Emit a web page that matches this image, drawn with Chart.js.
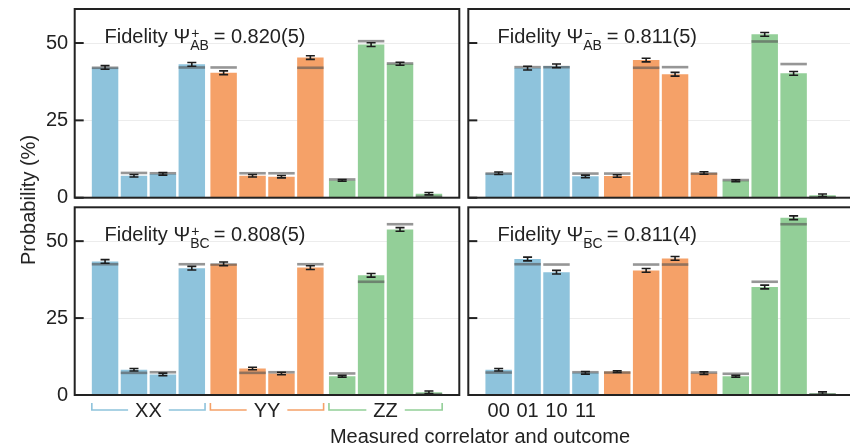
<!DOCTYPE html>
<html>
<head>
<meta charset="utf-8">
<script src="https://cdn.jsdelivr.net/npm/chart.js@4"></script>
<style>
  html, body { margin:0; padding:0; width:850px; height:446px; overflow:hidden; background:#fff; }
  body { position:relative; font-family:"Liberation Sans", Arial, sans-serif; color:#222; }
  canvas { position:absolute; }
  .fid { position:absolute; font-size:20px; line-height:20px; white-space:nowrap; }
  .ss { display:inline-block; position:relative; width:18px; height:1px; }
  .ss span { position:absolute; left:0; font-size:14px; line-height:14px; }
  .ss .sup { top:-16px; left:1px; }
  .ss .sub { top:-4px; }
  .title { position:absolute; font-size:20px; line-height:20px; white-space:nowrap; }
</style>
</head>
<body>
<canvas id="c0" width="462" height="210" style="left:0;top:0"></canvas>
<canvas id="c1" width="400" height="210" style="left:462px;top:0"></canvas>
<canvas id="c2" width="462" height="246" style="left:0;top:200px"></canvas>
<canvas id="c3" width="400" height="246" style="left:462px;top:200px"></canvas>

<div class="fid" style="left:104.5px;top:26px">Fidelity Ψ<span class="ss"><span class="sup">+</span><span class="sub">AB</span></span> = 0.820(5)</div>
<div class="fid" style="left:497.5px;top:26px">Fidelity Ψ<span class="ss"><span class="sup">−</span><span class="sub">AB</span></span> = 0.811(5)</div>
<div class="fid" style="left:104.5px;top:224px">Fidelity Ψ<span class="ss"><span class="sup">+</span><span class="sub">BC</span></span> = 0.808(5)</div>
<div class="fid" style="left:497.5px;top:224px">Fidelity Ψ<span class="ss"><span class="sup">−</span><span class="sub">BC</span></span> = 0.811(4)</div>

<div class="title" style="left:480px;top:426px;transform:translateX(-50%)">Measured correlator and outcome</div>
<div class="title" style="left:27.5px;top:200px;transform:translate(-50%,-50%) rotate(-90deg)">Probability (%)</div>

<script>
// ---- data ----
const correlators = ['XX', 'YY', 'ZZ'];
const outcomes = ['00', '01', '10', '11'];
const yTicks = [0, 25, 50];

// Measured probabilities (%), order: XX 00..11, YY 00..11, ZZ 00..11
const measAB_plus  = [42.1, 7.1, 7.7, 43.1, 40.4, 7.1, 6.8, 45.3, 5.6, 49.5, 43.3, 1.3];
const measAB_minus = [7.9, 41.9, 42.6, 6.9, 7.0, 44.5, 39.9, 8.0, 5.5, 52.8, 40.2, 0.8];
const measBC_plus  = [43.4, 8.2, 6.7, 41.2, 42.6, 8.6, 7.0, 41.4, 6.1, 38.9, 53.8, 0.9];
const measBC_minus = [8.2, 44.2, 39.9, 7.2, 7.6, 40.5, 44.4, 7.1, 6.1, 35.1, 57.6, 0.6];

// Theory predictions (%)
const theoAB_plus  = [42.0, 8.0, 7.9, 42.1, 42.1, 7.9, 7.9, 42.0, 5.9, 50.6, 43.4, 0.3];
const theoAB_minus = [7.8, 42.2, 42.2, 7.8, 7.8, 42.0, 42.2, 7.8, 5.7, 50.5, 43.2, 0.1];
const theoBC_plus  = [42.5, 7.2, 7.4, 42.5, 42.4, 7.2, 7.4, 42.5, 7.0, 36.8, 55.5, 0.2];
const theoBC_minus = [7.3, 42.5, 42.4, 7.4, 7.3, 42.4, 42.4, 7.3, 6.9, 36.8, 55.5, 0.1];

// Error bars (%)
const errAB_plus  = [0.6, 0.4, 0.4, 0.6, 0.6, 0.4, 0.4, 0.6, 0.3, 0.6, 0.5, 0.4];
const errAB_minus = [0.4, 0.6, 0.6, 0.4, 0.4, 0.6, 0.6, 0.4, 0.3, 0.6, 0.6, 0.4];
const errBC_plus  = [0.6, 0.4, 0.4, 0.6, 0.6, 0.4, 0.4, 0.6, 0.3, 0.6, 0.6, 0.4];
const errBC_minus = [0.4, 0.6, 0.6, 0.4, 0.3, 0.6, 0.6, 0.4, 0.3, 0.6, 0.6, 0.4];

const barColors = ['#8ec3dc', '#f5a168', '#93cf98'];
const groupGap = 0.1;
const FONT = '"Liberation Sans", Arial, sans-serif';

function xPos(i) {
  const g = Math.floor(i / outcomes.length), k = i % outcomes.length;
  return g * (outcomes.length + groupGap) + k;
}

const deco = {
  id: 'deco',
  afterDatasetsDraw(chart, args, opts) {
    const ctx = chart.ctx, y = chart.scales.y;
    const meta = chart.getDatasetMeta(0);
    ctx.save();
    ctx.fillStyle = 'rgba(85,85,85,0.62)';
    meta.data.forEach((el, i) => {
      const py = y.getPixelForValue(opts.theory[i]);
      ctx.fillRect(el.x - el.width / 2, py - 1.3, el.width, 2.6);
    });
    ctx.strokeStyle = '#1c1c1c';
    ctx.lineWidth = 1.6;
    const v = chart.data.datasets[0].data;
    meta.data.forEach((el, i) => {
      const val = v[i].y, e = opts.errors[i];
      const y1 = y.getPixelForValue(val + e), y2 = y.getPixelForValue(val - e);
      ctx.beginPath();
      ctx.moveTo(el.x, y1); ctx.lineTo(el.x, y2);
      ctx.moveTo(el.x - 4.5, y1); ctx.lineTo(el.x + 4.5, y1);
      ctx.moveTo(el.x - 4.5, y2); ctx.lineTo(el.x + 4.5, y2);
      ctx.stroke();
    });
    ctx.restore();
  },
  afterDraw(chart, args, opts) {
    const ctx = chart.ctx, y = chart.scales.y, ca = chart.chartArea;
    const meta = chart.getDatasetMeta(0);
    ctx.save();
    ctx.strokeStyle = '#222';
    ctx.lineWidth = 2;
    yTicks.forEach(t => {
      const py = y.getPixelForValue(t);
      ctx.beginPath(); ctx.moveTo(ca.left, py); ctx.lineTo(ca.left + 9, py); ctx.stroke();
    });
    ctx.strokeRect(ca.left, ca.top, ca.right - ca.left, ca.bottom - ca.top);
    ctx.font = '20px ' + FONT;
    ctx.fillStyle = '#222';
    ctx.textBaseline = 'alphabetic';
    ctx.textAlign = 'center';
    if (opts.brackets) {
      const ly = ca.bottom + 15, ty = ca.bottom + 8;
      correlators.forEach((name, g) => {
        const a = meta.data[g * 4], b = meta.data[g * 4 + 3];
        const x1 = a.x - a.width / 2, x2 = b.x + b.width / 2, xc = (x1 + x2) / 2;
        const tw = ctx.measureText(name).width / 2 + 7;
        ctx.strokeStyle = barColors[g];
        ctx.lineWidth = 1.6;
        ctx.beginPath();
        ctx.moveTo(x1, ty); ctx.lineTo(x1, ly); ctx.lineTo(xc - tw, ly);
        ctx.moveTo(xc + tw, ly); ctx.lineTo(x2, ly); ctx.lineTo(x2, ty);
        ctx.stroke();
        ctx.fillText(name, xc, ca.bottom + 21.7);
      });
    }
    if (opts.outcomes) {
      outcomes.forEach((o, k) => {
        ctx.fillText(o, meta.data[k].x, ca.bottom + 21.7);
      });
    }
    ctx.restore();
  }
};

function makePanel(id, meas, theo, err, cfg) {
  new Chart(document.getElementById(id), {
    type: 'bar',
    data: {
      datasets: [{
        data: meas.map((v, i) => ({ x: xPos(i), y: v })),
        backgroundColor: meas.map((v, i) => barColors[Math.floor(i / outcomes.length)]),
        borderWidth: 0,
        barPercentage: 0.915,
        categoryPercentage: 1
      }]
    },
    options: {
      responsive: false,
      animation: false,
      events: [],
      layout: { padding: cfg.padding },
      plugins: {
        legend: { display: false },
        tooltip: { enabled: false },
        deco: { theory: theo, errors: err, brackets: !!cfg.brackets, outcomes: !!cfg.outcomes }
      },
      scales: {
        x: { type: 'linear', min: -1.05, max: 12.25, display: false, offset: false },
        y: {
          min: 0, max: 61,
          afterBuildTicks: s => { s.ticks = yTicks.map(v => ({ value: v })); },
          afterFit: s => { s.width = cfg.yWidth; s.paddingTop = 0; s.paddingBottom = 0; },
          grid: { color: '#ececec', lineWidth: 1, drawTicks: false },
          border: { display: false },
          ticks: { display: cfg.labels, padding: 6.5, color: '#222', font: { family: FONT, size: 20 } }
        }
      }
    },
    plugins: [deco]
  });
}

makePanel('c0', measAB_plus, theoAB_plus, errAB_plus,
  { yWidth: 74.7, labels: true, padding: { left: 0, right: 2.7, top: 9, bottom: 12.3 } });
makePanel('c1', measAB_minus, theoAB_minus, errAB_minus,
  { yWidth: 0, labels: false, padding: { left: 6.3, right: 9.1, top: 9, bottom: 12.3 } });
makePanel('c2', measBC_plus, theoBC_plus, errBC_plus,
  { yWidth: 74.7, labels: true, brackets: true, padding: { left: 0, right: 2.7, top: 7.3, bottom: 51 } });
makePanel('c3', measBC_minus, theoBC_minus, errBC_minus,
  { yWidth: 0, labels: false, outcomes: true, padding: { left: 6.3, right: 9.1, top: 7.3, bottom: 51 } });
</script>
</body>
</html>
